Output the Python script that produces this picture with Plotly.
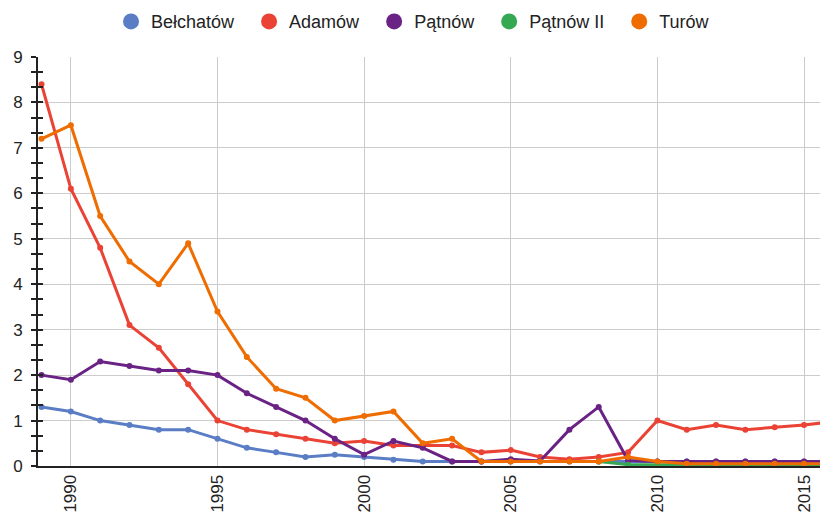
import plotly.graph_objects as go

years = list(range(1989, 2017))

belchatow = [1.3, 1.2, 1.0, 0.9, 0.8, 0.8, 0.6, 0.4, 0.3, 0.2, 0.25, 0.2, 0.14, 0.1, 0.1, 0.1,
             0.1, 0.1, 0.1, 0.1, 0.1, 0.1, 0.1, 0.1, 0.1, 0.1, 0.1, 0.1]
adamow = [8.4, 6.1, 4.8, 3.1, 2.6, 1.8, 1.0, 0.8, 0.7, 0.6, 0.5, 0.55, 0.45, 0.45, 0.45, 0.3,
          0.35, 0.2, 0.15, 0.2, 0.3, 1.0, 0.8, 0.9, 0.8, 0.85, 0.9, 0.98]
patnow = [2.0, 1.9, 2.3, 2.2, 2.1, 2.1, 2.0, 1.6, 1.3, 1.0, 0.6, 0.25, 0.55, 0.4, 0.1, 0.1,
          0.15, 0.11, 0.8, 1.3, 0.12, 0.1, 0.1, 0.1, 0.1, 0.1, 0.1, 0.1]
patnow2 = [None] * 19 + [0.1, 0.03, 0.03, 0.03, 0.03, 0.03, 0.03, 0.03, 0.03]
turow = [7.2, 7.5, 5.5, 4.5, 4.0, 4.9, 3.4, 2.4, 1.7, 1.5, 1.0, 1.1, 1.2, 0.5, 0.6, 0.1,
         0.1, 0.1, 0.1, 0.1, 0.2, 0.1, 0.05, 0.05, 0.05, 0.05, 0.05, 0.05]

names = ["Bełchatów", "Adamów", "Pątnów", "Pątnów II", "Turów"]
colors = ["#5a7dc5", "#ea4335", "#6a2384", "#34a853", "#ef6c00"]
series = [belchatow, adamow, patnow, patnow2, turow]

fig = go.Figure()
for name, col, vals in zip(names, colors, series):
    fig.add_trace(go.Scatter(x=years, y=vals, mode="lines+markers", name=name,
                             line=dict(color=col, width=3), marker=dict(color=col, size=6),
                             showlegend=False))
for name, col in zip(names, colors):
    fig.add_trace(go.Scatter(x=[None], y=[None], mode="markers", name=name + "\u00a0\u00a0",
                             marker=dict(color=col, size=18), showlegend=True))

# invisible trace to carry the overlay axis for cross-style ticks
fig.add_trace(go.Scatter(x=[None], y=[None], yaxis="y2", showlegend=False, hoverinfo="skip"))

fig.update_layout(
    width=828, height=515,
    margin=dict(l=30, r=0, t=49, b=57, autoexpand=False),
    paper_bgcolor="white", plot_bgcolor="white",
    font=dict(family="Arial, Liberation Sans, sans-serif", size=17, color="#222"),
    legend=dict(orientation="h", x=0.0915, xanchor="left", y=1.0863, yanchor="middle",
                font=dict(size=18, color="#222"), itemwidth=30, tracegroupgap=0),
    xaxis=dict(range=[1988.88, 2016.09], tickvals=[1990, 1995, 2000, 2005, 2010, 2015],
               tickangle=-90, showgrid=True, gridcolor="#cccccc", gridwidth=1,
               showline=True, linecolor="#222", linewidth=2, ticks="", zeroline=False,
               tickfont=dict(size=17, color="#222"), automargin=False),
    yaxis=dict(range=[0, 9], dtick=1, tick0=0, showgrid=True, gridcolor="#cccccc",
               gridwidth=1, showline=True, linecolor="#222", linewidth=2, zeroline=False,
               ticks="outside", ticklen=5, tickcolor="#222", tickwidth=1.5,
               minor=dict(dtick=1/3, tick0=0, ticks="outside", ticklen=5, tickcolor="#222",
                          tickwidth=1.5, showgrid=False),
               tickfont=dict(size=17, color="#222"), ticklabelstandoff=5, automargin=False),
    yaxis2=dict(range=[0, 9], overlaying="y", side="left", anchor="x", dtick=1/3, tick0=0,
                ticks="inside", ticklen=5, tickcolor="#222", tickwidth=1.5,
                showticklabels=False, showgrid=False, zeroline=False, showline=False,
                automargin=False),
)

fig.write_html("out.html")
